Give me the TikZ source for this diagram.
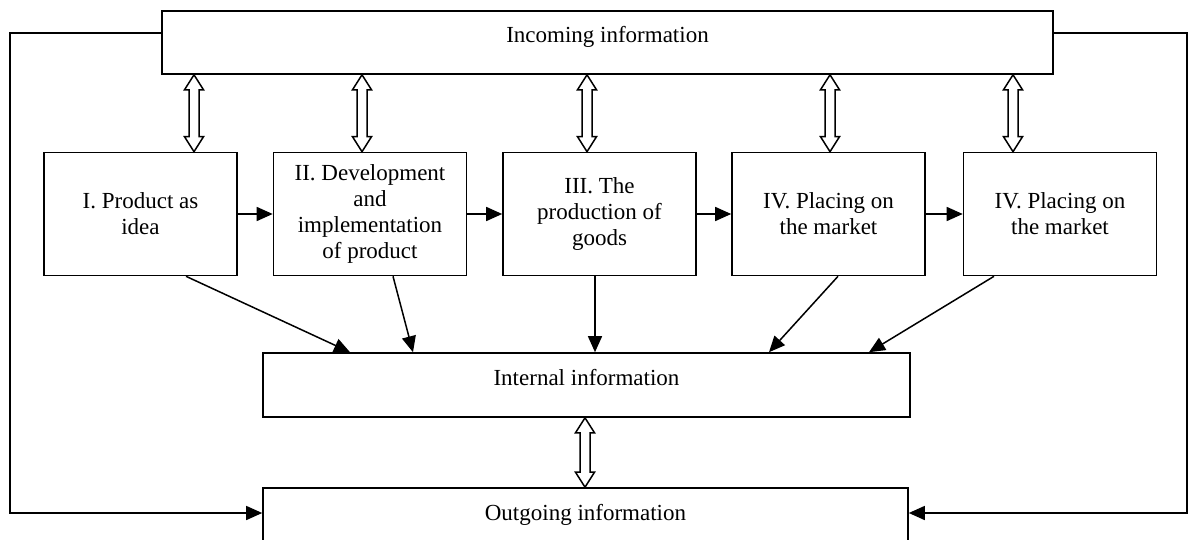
\documentclass[tikz,border=0pt]{standalone}
\usepackage{fontspec}
\setmainfont{Liberation Serif}
\usetikzlibrary{arrows.meta,calc}
\begin{document}
\begin{tikzpicture}[x=1pt,y=-1pt,
  every node/.style={font=\fontsize{23pt}{26pt}\selectfont},
  box/.style={draw,line width=1.6pt,inner sep=0pt},
  stagebox/.style={box,minimum width=193pt,minimum height=123pt,align=center},
  infobox/.style={box,text height=15pt,text depth=15pt},
  arr/.style={line width=1.5pt,-{Triangle[length=16pt,width=14pt]}},
  dblarrow/.style={line width=1.5pt,line join=miter,fill=white,to path={
    ($(\tikztostart)+(-5,15)$) -- ($(\tikztostart)+(-9.5,15)$) -- (\tikztostart)
    -- ($(\tikztostart)+(9.5,15)$) -- ($(\tikztostart)+(5,15)$)
    -- ($(\tikztotarget)+(5,-15)$) -- ($(\tikztotarget)+(9.5,-15)$) -- (\tikztotarget)
    -- ($(\tikztotarget)+(-9.5,-15)$) -- ($(\tikztotarget)+(-5,-15)$) -- cycle}}
]
\useasboundingbox (0,0) rectangle (1188,540);

\node[infobox,minimum width=891pt,minimum height=63pt] (inc) at (607.5,42.5) {Incoming information};

\node[stagebox] (b1) at (140.5,214) {I. Product as\\idea};
\node[stagebox] (b2) at (370,214) {II. Development\\and\\implementation\\of product};
\node[stagebox] (b3) at (599.5,214) {III. The\\production of\\goods};
\node[stagebox] (b4) at (828.5,214) {IV. Placing on\\the market};
\node[stagebox] (b5) at (1060,214) {IV. Placing on\\the market};

\node[infobox,minimum width=647pt,minimum height=64pt] (int) at (586.5,385) {Internal information};
\node[infobox,minimum width=645pt,minimum height=64pt] (out) at (585.5,520) {Outgoing information};

% x positions of the double arrows
\coordinate (d1) at (194,0);
\coordinate (d2) at (362,0);
\coordinate (d3) at (587,0);
\coordinate (d4) at (830,0);
\coordinate (d5) at (1013,0);
\coordinate (d6) at (585,0);

\draw[dblarrow] (inc.south -| d1) to (b1.north -| d1);
\draw[dblarrow] (inc.south -| d2) to (b2.north -| d2);
\draw[dblarrow] (inc.south -| d3) to (b3.north -| d3);
\draw[dblarrow] (inc.south -| d4) to (b4.north -| d4);
\draw[dblarrow] (inc.south -| d5) to (b5.north -| d5);
\draw[dblarrow] (int.south -| d6) to (out.north -| d6);

% flow between stages
\draw[arr] (b1.east) -- (b2.west);
\draw[arr] (b2.east) -- (b3.west);
\draw[arr] (b3.east) -- (b4.west);
\draw[arr] (b4.east) -- (b5.west);

% stages to internal information
\coordinate (s1) at (186,0);  \coordinate (t1) at (350,0);
\coordinate (s2) at (393,0);  \coordinate (t2) at (413,0);
\coordinate (s3) at (595,0);
\coordinate (s4) at (838,0);  \coordinate (t4) at (769,0);
\coordinate (s5) at (994,0);  \coordinate (t5) at (869,0);
\draw[arr] (b1.south -| s1) -- (int.north -| t1);
\draw[arr] (b2.south -| s2) -- (int.north -| t2);
\draw[arr] (b3.south -| s3) -- (int.north -| s3);
\draw[arr] (b4.south -| s4) -- (int.north -| t4);
\draw[arr] (b5.south -| s5) -- (int.north -| t5);

% feedback lines around
\coordinate (lft) at (10,0);
\coordinate (rgt) at (1187,0);
\coordinate (ly) at (0,33);
\coordinate (oy) at (0,513);
\draw[arr] (inc.west |- ly) -- (lft |- ly) -- (lft |- oy) -- (out.west |- oy);
\draw[arr] (inc.east |- ly) -- (rgt |- ly) -- (rgt |- oy) -- (out.east |- oy);
\end{tikzpicture}
\end{document}
